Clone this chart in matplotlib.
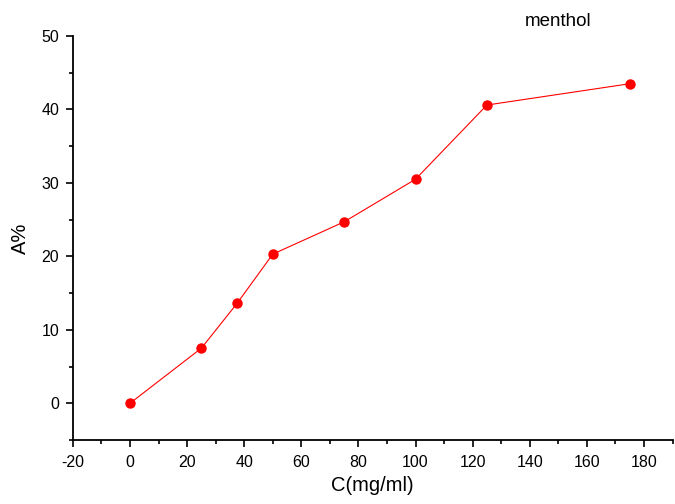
import matplotlib
matplotlib.use('Agg')
import matplotlib.pyplot as plt
from matplotlib.ticker import MultipleLocator

plt.rcParams['font.family'] = ['Liberation Sans', 'DejaVu Sans']
plt.rcParams['axes.unicode_minus'] = False

# concentration (mg/ml) and A%
conc = [0, 25, 37.5, 50, 75, 100, 125, 175]
a_pct = [0, 7.5, 13.6, 20.3, 24.7, 30.5, 40.6, 43.5]

fig = plt.figure(figsize=(6.75, 5.04), dpi=100)
ax = fig.add_axes([0.108, 0.127, 0.8883, 0.8016])

ax.plot(conc, a_pct, color='red', lw=0.8, marker='o', ms=6.5,
        markerfacecolor='red', markeredgecolor='red')

ax.set_xlim(-20, 190)
ax.set_ylim(-5, 50)
ax.xaxis.set_major_locator(MultipleLocator(20))
ax.xaxis.set_minor_locator(MultipleLocator(10))
ax.yaxis.set_major_locator(MultipleLocator(10))
ax.yaxis.set_minor_locator(MultipleLocator(5))

for s in ['top', 'right']:
    ax.spines[s].set_visible(False)
for s in ['left', 'bottom']:
    ax.spines[s].set_linewidth(1.3)

ax.tick_params(which='major', direction='out', length=5, width=1.2,
               labelsize=11.5)
ax.tick_params(which='minor', direction='out', length=3, width=1.2)
ax.tick_params(axis='x', which='major', pad=6)
ax.tick_params(axis='y', which='major', pad=5)

ax.set_xlabel('C(mg/ml)', fontsize=14.5, labelpad=4)
ax.set_ylabel('A%', fontsize=14.5, labelpad=8)

fig.text(0.827, 0.957, 'menthol', fontsize=13.5, ha='center', va='center')

fig.savefig('out.png', dpi=100)
